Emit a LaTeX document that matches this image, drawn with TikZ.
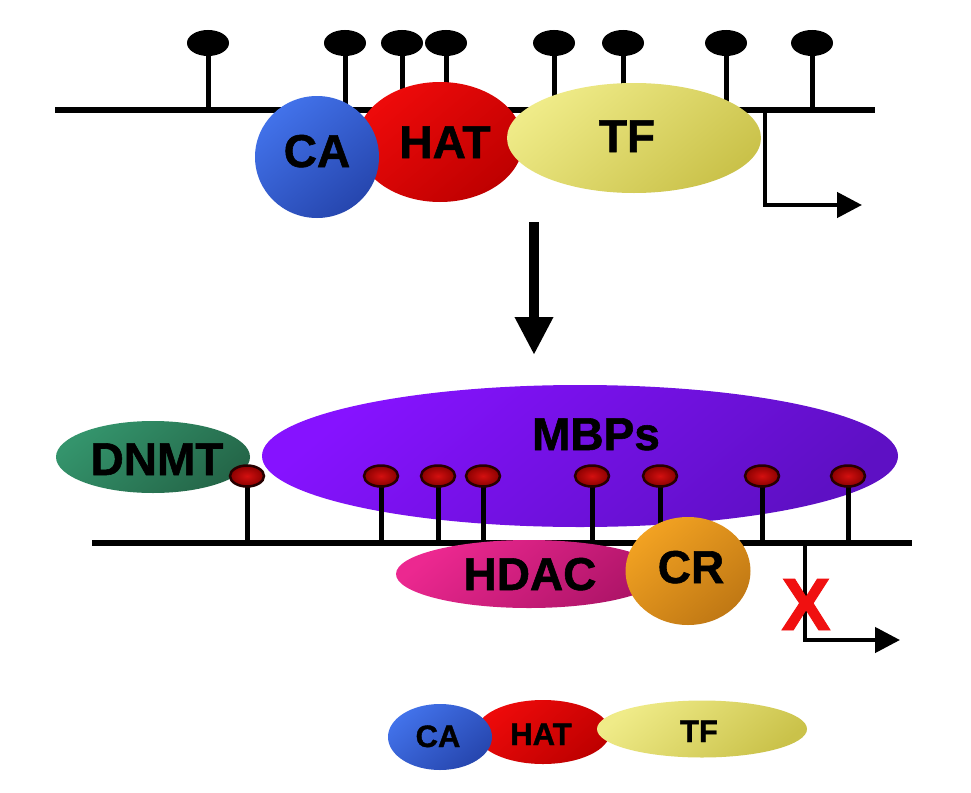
\documentclass[tikz,border=0pt]{standalone}
\usepackage{fontspec}
\setmainfont{Liberation Sans}
\newfontfamily\heavyfont[FakeBold=1.2]{Liberation Sans Bold}
\usetikzlibrary{shapes.geometric,arrows.meta}
\definecolor{caL}{HTML}{4272EA}\definecolor{caD}{HTML}{2646AE}
\definecolor{hatL}{HTML}{EE0A0A}\definecolor{hatD}{HTML}{BE0000}
\definecolor{tfL}{HTML}{EFEB88}\definecolor{tfD}{HTML}{CAC24A}
\definecolor{dnL}{HTML}{34946C}\definecolor{dnD}{HTML}{246648}
\definecolor{mbL}{HTML}{8612FF}\definecolor{mbD}{HTML}{5E10C4}
\definecolor{hdL}{HTML}{EC2890}\definecolor{hdD}{HTML}{AE1468}
\definecolor{crL}{HTML}{F2A222}\definecolor{crD}{HTML}{C07814}
\definecolor{rhL}{HTML}{D41010}\definecolor{rhD}{HTML}{8A0000}
\definecolor{xred}{HTML}{F01010}
\tikzset{
  blob/.style={ellipse, inner sep=0pt, draw=none},
  shd/.style 2 args={top color=#1, bottom color=#2, shading angle=40},
  dna/.style={line width=5.5pt, black},
  stem/.style={line width=5pt, black},
  bhead/.style={blob, fill=black, minimum width=42pt, minimum height=26pt},
  rhead/.style={ellipse, inner sep=0pt, draw=black!85!red, line width=2.5pt,
    inner color=rhL, outer color=rhD, minimum width=34pt, minimum height=21pt},
  big/.style={font=\fontsize{46}{46}\heavyfont, inner sep=0pt, anchor=base},
  small/.style={font=\fontsize{31}{31}\heavyfont, inner sep=0pt, anchor=base},
  prom/.style={line width=4.5pt, black, -{Triangle[length=25pt,width=25pt]}},
}
\begin{document}
\begin{tikzpicture}[x=1pt,y=-1pt]
\useasboundingbox[fill=white] (0,0) rectangle (971,792);

% ---------- top panel ----------
\coordinate (tL) at (55,110);
\coordinate (tR) at (875,110);
\draw[dna] (tL) -- (tR);
\foreach \i/\x in {1/208,2/345,3/402,4/446,5/554,6/623,7/726,8/812}{
  \node[bhead] (th\i) at (\x,43) {};
  \coordinate (ts\i) at (\x,110);
  \draw[stem] (th\i.center) -- (ts\i);
}
\coordinate (tp0) at (765,108);
\coordinate (tp1) at (765,205);
\coordinate (tp2) at (862,205);
\draw[prom] (tp0) -- (tp1) -- (tp2);

\node[blob, shd={hatL}{hatD}, minimum width=166pt, minimum height=120pt] (hat) at (440,142) {};
\node[blob, shd={caL}{caD}, minimum width=124pt, minimum height=122pt] (ca) at (317,157) {};
\node[blob, shd={tfL}{tfD}, minimum width=254pt, minimum height=110pt] (tf) at (634,138) {};
\node[big] (tCA) at (317,167) {CA};
\node[big] (tHAT) at (445,158) {HAT};
\node[big] (tTF) at (627,152) {TF};

% ---------- middle arrow ----------
\coordinate (a0) at (534,222);
\coordinate (a1) at (534,355);
\draw[line width=10pt, -{Triangle[length=38pt,width=36pt]}] (a0) -- (a1);

% ---------- bottom panel ----------
\node[blob, shd={dnL}{dnD}, minimum width=194pt, minimum height=72pt] (dnmt) at (153,457) {};
\node[blob, shd={mbL}{mbD}, minimum width=636pt, minimum height=142pt] (mbp) at (580,456) {};
\node[big] (tDNMT) at (157,475) {DNMT};
\node[big] (tMBP) at (596,450) {MBPs};

\coordinate (bL) at (92,543);
\coordinate (bR) at (912,543);
\draw[dna] (bL) -- (bR);
\foreach \i/\x in {1/247,2/381,3/438,4/483,5/592,6/660,7/762,8/848}{
  \coordinate (bs\i) at (\x,543);
  \draw[stem] (\x,476) -- (bs\i);
  \node[rhead] (bh\i) at (\x,476) {};
}

\node[blob, shd={hdL}{hdD}, minimum width=266pt, minimum height=68pt] (hdac) at (529,574) {};
\node[blob, shd={crL}{crD}, minimum width=125pt, minimum height=108pt] (cr) at (688,571) {};
\node[big] (tHDAC) at (530,590) {HDAC};
\node[big] (tCR) at (691,583) {CR};

\coordinate (bp0) at (805,541);
\coordinate (bp1) at (805,640);
\coordinate (bp2) at (900,640);
\draw[prom] (bp0) -- (bp1) -- (bp2);
\node[font=\fontsize{74}{74}\heavyfont, text=xred, inner sep=0pt, anchor=base] (xx) at (806,630) {X};

% ---------- legend row ----------
\node[blob, shd={hatL}{hatD}, minimum width=134pt, minimum height=64pt] (hat2) at (543,732) {};
\node[blob, shd={caL}{caD}, minimum width=104pt, minimum height=66pt] (ca2) at (440,737) {};
\node[blob, shd={tfL}{tfD}, minimum width=210pt, minimum height=57pt] (tf2) at (702,729) {};
\node[small] (tCA2) at (438,747) {CA};
\node[small] (tHAT2) at (541,745) {HAT};
\node[small] (tTF2) at (699,742) {TF};
\end{tikzpicture}
\end{document}
